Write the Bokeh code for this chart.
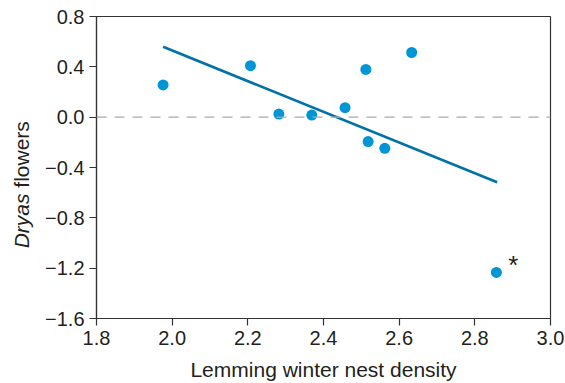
import math
from bokeh.plotting import figure
from bokeh.layouts import row
from bokeh.models import Range1d, FixedTicker, Span
from bokeh.core.properties import value
from bokeh.embed import file_html
from bokeh.resources import INLINE

# data
nest_density = [1.976, 2.207, 2.282, 2.369, 2.457, 2.512, 2.518, 2.562, 2.633, 2.857]
dryas_flowers = [0.256, 0.409, 0.025, 0.017, 0.075, 0.379, -0.194, -0.248, 0.514, -1.234]
fit_x = [1.976, 2.859]
fit_y = [0.559, -0.517]
outlier_x = [2.857]
outlier_y = [-1.234]

x_ticks = [1.8, 2.0, 2.2, 2.4, 2.6, 2.8, 3.0]
y_ticks = [0.8, 0.4, 0.0, -0.4, -0.8, -1.2, -1.6]
x_tick_labels = ["1.8", "2.0", "2.2", "2.4", "2.6", "2.8", "3.0"]
y_tick_labels = ["0.8", "0.4", "0.0", "\u22120.4", "\u22120.8", "\u22121.2", "\u22121.6"]
y_label_italic = "Dryas"
y_label_rest = "\u00a0flowers"

FONT = "Liberation Sans"
TXT = "#231f20"
H = 383
LABEL_W = 40

# narrow strip holding the y-axis title (italic + normal parts)
lab = figure(frame_width=LABEL_W, frame_height=H, min_border=0,
             x_range=Range1d(0, LABEL_W), y_range=Range1d(0, H),
             x_axis_location=None, y_axis_location=None,
             output_backend="svg", toolbar_location=None)
lab.grid.visible = False
lab.outline_line_color = None
lab.text(x=[21], y=[H - 177], text=[y_label_italic], angle=math.pi / 2,
         text_font=value(FONT), text_font_size="21px", text_font_style="italic",
         text_color=TXT, text_align="right", text_baseline="alphabetic")
lab.text(x=[21], y=[H - 177], text=[y_label_rest], angle=math.pi / 2,
         text_font=value(FONT), text_font_size="21px", text_font_style="normal",
         text_color=TXT, text_align="left", text_baseline="alphabetic")

p = figure(frame_width=454, frame_height=302,
           min_border_left=96 - LABEL_W, min_border_right=15, min_border_top=16, min_border_bottom=65,
           x_range=Range1d(1.8, 3.0), y_range=Range1d(-1.6, 0.8),
           output_backend="svg", toolbar_location=None)

p.grid.visible = False
p.outline_line_color = "#333333"
p.outline_line_width = 1.2

for ax, ticks, labels in ((p.xaxis[0], x_ticks, x_tick_labels), (p.yaxis[0], y_ticks, y_tick_labels)):
    ax.ticker = FixedTicker(ticks=ticks)
    ax.major_label_overrides = {t: l for t, l in zip(ticks, labels)}
    ax.minor_tick_line_color = None
    ax.major_tick_in = 0
    ax.major_tick_out = 7
    ax.axis_line_color = "#333333"
    ax.axis_line_width = 1.2
    ax.major_tick_line_color = "#333333"
    ax.major_tick_line_width = 1.2
    ax.major_label_text_font = FONT
    ax.major_label_text_font_size = "20px"
    ax.major_label_text_color = TXT

p.xaxis.major_label_standoff = 5
p.yaxis.major_label_standoff = 5
p.xaxis.axis_label = "Lemming winter nest density"
p.xaxis.axis_label_text_font = FONT
p.xaxis.axis_label_text_font_size = "21px"
p.xaxis.axis_label_text_font_style = "normal"
p.xaxis.axis_label_text_color = TXT
p.xaxis.axis_label_standoff = 10

# zero reference line
p.add_layout(Span(location=0, dimension="width", line_color="#aaaaaa",
                  line_width=1.2, line_dash="10 8"))

# regression line
p.line(fit_x, fit_y, line_color="#0072a8", line_width=2.6)

# points
p.scatter(nest_density, dryas_flowers, size=11, fill_color="#0096d6", line_color=None)

# asterisk by the outlier
p.text(x=[outlier_x[0] + 0.045], y=[outlier_y[0] + 0.06], text=["*"],
       text_font=value(FONT), text_font_size="26px", text_color=TXT,
       text_align="center", text_baseline="middle")

layout = row(lab, p, spacing=0)
open("out.html", "w").write(file_html(layout, INLINE))
